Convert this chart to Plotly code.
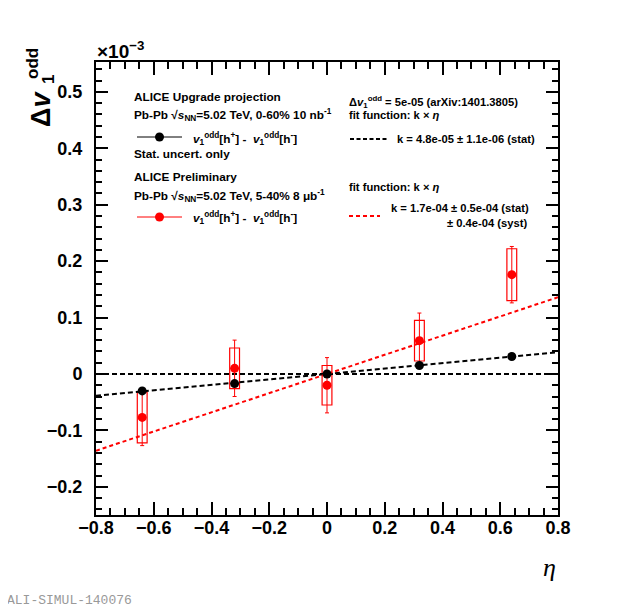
import plotly.graph_objects as go

# ---------------- data (y in units of 1e-3) ----------------
eta_pts = [-0.64, -0.32, 0.0, 0.32, 0.64]
proj_vals = [-0.030, -0.017, 0.000, 0.015, 0.031]
proj_stat = [0.0011, 0.0011, 0.0011, 0.0011, 0.0011]
prelim_vals = [-0.077, 0.010, -0.020, 0.059, 0.176]
prelim_stat = [0.050, 0.050, 0.049, 0.049, 0.050]
prelim_syst = [0.045, 0.036, 0.035, 0.036, 0.046]
k_proj = 0.048      # 4.8e-05 in units of 1e-3
k_prelim = 0.17     # 1.7e-04 in units of 1e-3
eta_range = [-0.8, 0.8]
y_range = [-0.25, 0.553]

OFF = 8  # page body margin
W, H = 623 - OFF, 609 - OFF
L, R, T, B = 96 - OFF, 65, 62 - OFF, 94
PW, PH = W - L - R, H - T - B

def px(x):
    return (x - OFF - L) / PW

def py(y):
    return (H - B - (y - OFF)) / PH

FONT = "Liberation Sans"
fig = go.Figure()

# fit lines and zero line
fig.add_trace(go.Scatter(x=eta_range, y=[0, 0], mode="lines",
                         line=dict(color="black", width=2, dash="5px,3px"), showlegend=False))
fig.add_trace(go.Scatter(x=eta_range, y=[k_proj * e for e in eta_range], mode="lines",
                         line=dict(color="black", width=2, dash="5px,3px"), showlegend=False))
fig.add_trace(go.Scatter(x=eta_range, y=[k_prelim * e for e in eta_range], mode="lines",
                         line=dict(color="red", width=2, dash="4px,3px"), showlegend=False))

# systematic boxes
fig.add_trace(go.Bar(x=eta_pts, y=[2 * s for s in prelim_syst],
                     base=[v - s for v, s in zip(prelim_vals, prelim_syst)],
                     width=0.034, marker=dict(color="rgba(0,0,0,0)", line=dict(color="red", width=1.2)),
                     showlegend=False))

# preliminary points
fig.add_trace(go.Scatter(x=eta_pts, y=prelim_vals, mode="markers",
                         marker=dict(color="red", size=9),
                         error_y=dict(type="data", array=prelim_stat, color="red", thickness=1, width=2),
                         showlegend=False))
# projection points
fig.add_trace(go.Scatter(x=eta_pts, y=proj_vals, mode="markers",
                         marker=dict(color="black", size=9),
                         error_y=dict(type="data", array=proj_stat, color="black", thickness=1, width=0),
                         showlegend=False))

axis_common = dict(showgrid=False, zeroline=False, showline=True, linecolor="black", linewidth=2,
                   mirror="allticks", ticks="inside", tickcolor="black", tickwidth=1.5,
                   tickfont=dict(family=FONT, size=18, color="black", weight="bold"))

fig.update_xaxes(range=eta_range, tick0=-0.8, dtick=0.2, ticklen=13,
                 minor=dict(dtick=0.05, ticklen=7, ticks="inside", tickcolor="black", tickwidth=1.5),
                 ticklabelstandoff=-5, **axis_common)
fig.update_yaxes(range=y_range, tick0=0, dtick=0.1, ticklen=12,
                 minor=dict(dtick=0.02, ticklen=6, ticks="inside", tickcolor="black", tickwidth=1.5),
                 ticklabelstandoff=8, **axis_common)

ann = []

def text(x, y, s, size=12, anchor="left", family=FONT, bold=True, color="black", angle=0):
    ann.append(dict(x=px(x), y=py(y), xref="paper", yref="paper", text=s, showarrow=False,
                    xanchor=anchor, yanchor="middle", textangle=angle,
                    font=dict(family=family, size=size, color=color, weight="bold" if bold else "normal")))

v1 = "<i>v</i><sub>1</sub><sup>odd</sup>"
LS = 11.8
text(132, 97, "ALICE Upgrade projection", LS)
text(132, 115, "Pb-Pb √<i>s</i><sub>NN</sub>=5.02 TeV, 0-60% 10 nb<sup>-1</sup>", LS)
text(191, 139, v1 + "[h<sup>+</sup>] -  " + v1 + "[h<sup>-</sup>]", LS)
text(132, 154, "Stat. uncert. only", LS)
text(132, 177, "ALICE Preliminary", LS)
text(132, 196, "Pb-Pb √<i>s</i><sub>NN</sub>=5.02 TeV, 5-40% 8 μb<sup>-1</sup>", LS)
text(191, 218, v1 + "[h<sup>+</sup>] -  " + v1 + "[h<sup>-</sup>]", LS)

RS = 11.2
text(347, 102, "Δ" + v1 + " = 5e-05 (arXiv:1401.3805)", RS)
text(347, 115, "fit function: k × <i>η</i>", RS)
text(395, 139, "k = 4.8e-05 ± 1.1e-06 (stat)", RS)
text(347, 187, "fit function: k × <i>η</i>", RS)
text(389, 208, "k = 1.7e-04 ± 0.5e-04 (stat)", RS)
text(529, 223, "± 0.4e-04 (syst)", RS, anchor="right")

text(95, 50, "×10<sup>−3</sup>", 19)
# y-axis title with stacked sub/superscript
text(41, 109, "Δ<i>v</i>", 27, anchor="center", angle=-90)
text(32, 64, "odd", 17, anchor="center", angle=-90)
text(48, 80, "1", 17, anchor="center", angle=-90)
text(549, 567, "<i>η</i>", 26, anchor="center", family="Liberation Serif", bold=False)
text(5, 600, "ALI-SIMUL-140076", 13, family="Liberation Mono", color="#999999", bold=False)

fig.update_layout(annotations=ann)

shapes = [
    dict(type="line", xref="paper", yref="paper", x0=px(137), x1=px(182), y0=py(137), y1=py(137),
         line=dict(color="black", width=1)),
    dict(type="circle", xref="paper", yref="paper", x0=px(155), x1=px(164), y0=py(132.5), y1=py(141.5),
         fillcolor="black", line=dict(color="black", width=0)),
    dict(type="line", xref="paper", yref="paper", x0=px(137), x1=px(182), y0=py(217), y1=py(217),
         line=dict(color="red", width=1)),
    dict(type="circle", xref="paper", yref="paper", x0=px(155), x1=px(164), y0=py(212.5), y1=py(221.5),
         fillcolor="red", line=dict(color="red", width=0)),
    dict(type="line", xref="paper", yref="paper", x0=px(350), x1=px(387), y0=py(139), y1=py(139),
         line=dict(color="black", width=2, dash="4px,2.5px")),
    dict(type="line", xref="paper", yref="paper", x0=px(349), x1=px(380), y0=py(216), y1=py(216),
         line=dict(color="red", width=2, dash="4px,3px")),
]

fig.update_layout(width=W, height=H, margin=dict(l=L, r=R, t=T, b=B, autoexpand=False),
                  plot_bgcolor="white", paper_bgcolor="white", shapes=shapes,
                  showlegend=False, barmode="overlay")

fig.write_html("out.html")
